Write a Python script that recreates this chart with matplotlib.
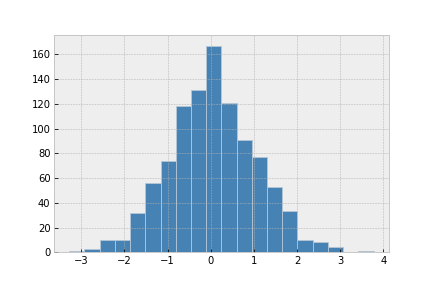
import numpy as np
import matplotlib
matplotlib.use("Agg")
import matplotlib.pyplot as plt

# histogram: 20 bins between these limits
bin_lo = -3.28
bin_hi = 3.775
counts = [1, 3, 10, 10, 32, 56, 74, 118, 131, 167,
          121, 91, 77, 53, 33, 10, 8, 4, 0, 1]

plt.style.use("bmh")
plt.rcParams["xtick.direction"] = "in"
plt.rcParams["ytick.direction"] = "in"

edges = np.linspace(bin_lo, bin_hi, len(counts) + 1)
centers = (edges[:-1] + edges[1:]) / 2

fig, ax = plt.subplots(figsize=(6, 4), dpi=72)
fig.subplots_adjust(left=0.125, right=0.9, bottom=0.124, top=0.877)

ax.hist(centers, bins=edges, weights=counts, color="steelblue",
        edgecolor="#b8c8d8", linewidth=0.8)

ax.set_xticks([-3, -2, -1, 0, 1, 2, 3, 4])
ax.set_yticks(range(0, 161, 20))

fig.savefig("out.png", dpi=72)
